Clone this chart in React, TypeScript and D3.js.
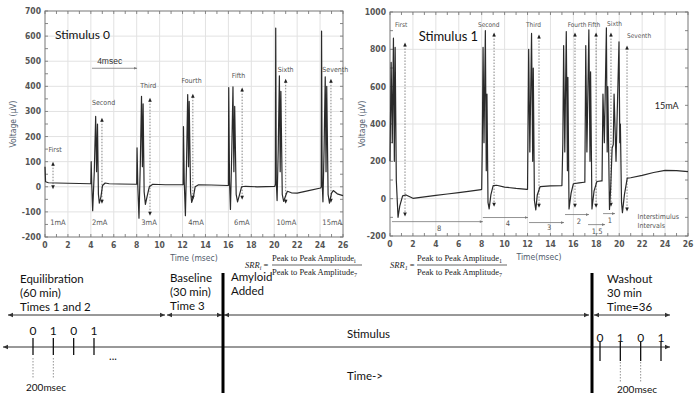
import React from "react";
import * as d3 from "d3";

// ---------- DATA ----------
const timeTicks = [0, 2, 4, 6, 8, 10, 12, 14, 16, 18, 20, 22, 24, 26];
const leftVoltTicks = [-200, -100, 0, 100, 200, 300, 400, 500, 600, 700];
const rightVoltTicks = [-200, 0, 200, 400, 600, 800, 1000];

// Stimulus 0 recording (time ms, voltage µV)
const leftTrace: [number, number][] = [
  [0, 80], [0.05, 20], [0.3, 16], [1, 15], [2, 14], [3, 13], [3.95, 12],
  [4.0, 12], [4.03, 100], [4.08, 10], [4.16, -95], [4.3, 60], [4.42, 280], [4.5, 60], [4.58, 250], [4.66, -30], [4.74, -65], [4.88, -40], [5.02, 5], [5.25, 15], [5.6, 12], [6.5, 11], [7.95, 10],
  [8.0, 10], [8.03, 155], [8.1, 0], [8.2, -125], [8.32, 100], [8.42, 360], [8.5, 80], [8.56, 330], [8.65, -20], [8.76, -70], [8.9, -40], [9.1, 0], [9.4, 10], [10.5, 8], [11.95, 8],
  [12.05, 8], [12.08, 240], [12.15, 20], [12.25, -115], [12.35, 100], [12.45, 367], [12.52, 80], [12.58, 340], [12.7, -20], [12.8, -62], [12.95, -40], [13.1, 0], [13.4, 8], [14.5, 7], [15.95, 5],
  [16.0, 5], [16.03, 395], [16.1, 20], [16.18, -90], [16.3, 150], [16.4, 398], [16.48, 60], [16.55, 320], [16.68, -30], [16.8, -60], [16.95, -35], [17.15, 0], [17.5, 2], [18.5, 0], [20.05, 2],
  [20.1, 10], [20.13, 632], [20.18, 20], [20.25, -55], [20.35, 150], [20.45, 442], [20.52, 60], [20.58, 380], [20.7, -30], [20.82, -58], [21.0, -35], [21.15, -18], [21.5, -24], [22, -25], [23, -15], [24.05, -5],
  [24.1, 0], [24.13, 620], [24.18, 20], [24.25, -60], [24.35, 150], [24.45, 438], [24.52, 60], [24.58, 400], [24.7, -30], [24.82, -65], [25.0, -25], [25.15, -15], [25.5, -28], [26, -35],
];

// Stimulus 1 recording (time ms, voltage µV)
const rightTrace: [number, number][] = [
  [0, 200], [0.1, 730], [0.2, 300], [0.3, 860], [0.38, 200], [0.45, 810], [0.55, 100], [0.7, -100], [0.85, -40], [1.1, 15], [1.4, 20], [2, 2], [3, 10], [4, 18], [5, 25], [6, 32], [7, 40], [7.95, 48],
  [8.0, 50], [8.05, 270], [8.12, 810], [8.2, 300], [8.32, 900], [8.4, 150], [8.46, 560], [8.55, -20], [8.65, -55], [8.8, 20], [9.0, 70], [9.3, 72], [10, 62], [11, 55], [11.95, 50],
  [12.0, 50], [12.1, 800], [12.2, 250], [12.35, 885], [12.45, 200], [12.5, 700], [12.6, -10], [12.72, -60], [12.85, 20], [13.1, 65], [14, 68], [14.95, 70],
  [15.0, 70], [15.08, 300], [15.15, 820], [15.25, 250], [15.38, 895], [15.48, 150], [15.52, 650], [15.62, -55], [15.8, 30], [16.0, 80], [16.5, 85], [16.95, 88],
  [17.0, 88], [17.08, 820], [17.18, 250], [17.35, 905], [17.45, 200], [17.5, 680], [17.62, -55], [17.8, 40], [18.05, 92], [18.45, 95],
  [18.5, 95], [18.58, 560], [18.7, 300], [18.88, 915], [18.95, 250], [19.0, 600], [19.15, -58], [19.25, 50], [19.38, 270], [19.48, 290],
  [19.55, 560], [19.72, 200], [19.98, 840], [20.05, 300], [20.1, 400], [20.2, -20], [20.28, -75], [20.45, 20], [20.7, 110], [21, 112], [22, 125], [23, 140], [24, 152], [25, 150], [26, 145],
];

const pulseNames = ["First", "Second", "Third", "Fourth", "Fifth", "Sixth", "Seventh"];

// Stimulus 0 peak-to-peak markers
const leftArrowT = [0.7, 4.97, 9.16, 12.9, 17.2, 21.0, 24.95];
const leftArrowTop = [100, 275, 355, 370, 395, 430, 430];
const leftArrowBottom = [-10, -68, -115, -52, -52, -68, -64];
const leftLabelT = [0.3, 4.1, 8.3, 11.9, 16.3, 20.3, 24.2];
const leftLabelV = [148, 335, 400, 420, 440, 467, 467];
const currents = ["1mA", "2mA", "3mA", "4mA", "6mA", "10mA", "15mA"];
const currentT = [0.45, 4.1, 8.4, 12.5, 16.5, 20.2, 24.2];

// Stimulus 1 peak-to-peak markers
const rightArrowT = [1.31, 9.08, 13.0, 16.14, 17.98, 19.28, 20.68];
const rightArrowTop = [837, 890, 880, 890, 890, 890, 821];
const rightArrowBottom = [-96, -43, -48, -48, -48, -43, -69];
const rightLabelT = [0.44, 7.68, 11.87, 15.5, 17.25, 18.94, 20.68];
const rightLabelV = [928, 933, 933, 933, 933, 938, 869];

// Interstimulus intervals (ms)
const intervalLabels = ["8", "4", "3", "2", "1.5", "1"];
const intervalStart = [0.17, 8.1, 12.13, 15.27, 17.28, 18.59];
const intervalEnd = [8.1, 12.04, 15.18, 17.36, 18.76, 19.63];
const intervalV = [-123, -101, -128, -85, -139, -80];
const intervalLabelT = [4.1, 10.1, 13.7, 16.3, 17.6, 19.0];
const intervalLabelV = [-160, -133, -155, -123, -176, -117];

// Timeline schematic
const pulseSeq = ["0", "1", "0", "1"];

// ---------- HELPERS ----------
const TICK_FONT = "'Liberation Sans Narrow', 'DejaVu Sans Condensed', 'Liberation Sans', sans-serif";
const SANS = "Lato, 'Open Sans', sans-serif";
const SERIF = "'Liberation Serif', 'DejaVu Serif', serif";
const TITLE_COLOR = "#4f5b6b";

function Chart(props: {
  x: d3.ScaleLinear<number, number>;
  y: d3.ScaleLinear<number, number>;
  yTicks: number[];
  minorY: number;
  data: [number, number][];
  xTitle: string;
  children?: React.ReactNode;
  titleX: number;
}) {
  const { x, y, yTicks, minorY, data, xTitle, titleX } = props;
  const [x0, x1] = x.range();
  const [y0, y1] = y.range();
  const line = d3.line<[number, number]>().x((d) => x(d[0])).y((d) => y(d[1]));
  const minorXs = d3.range(0, 26.01, 1);
  const [dmin, dmax] = y.domain();
  const minorYs = d3.range(dmin, dmax + 0.01, minorY);
  return (
    <g>
      {timeTicks.slice(1, -1).map((t) => (
        <line key={"gx" + t} x1={x(t)} x2={x(t)} y1={y1} y2={y0} stroke="#e2e2e2" strokeWidth={1} />
      ))}
      {yTicks.slice(1, -1).map((v) => (
        <line key={"gy" + v} x1={x0} x2={x1} y1={y(v)} y2={y(v)} stroke="#e2e2e2" strokeWidth={1} />
      ))}
      {minorXs.map((t) => (
        <g key={"mx" + t}>
          <line x1={x(t)} x2={x(t)} y1={y1} y2={y1 + 3} stroke="#888" />
          <line x1={x(t)} x2={x(t)} y1={y0} y2={y0 - 3} stroke="#888" />
        </g>
      ))}
      {minorYs.map((v) => (
        <g key={"my" + v}>
          <line x1={x0} x2={x0 + 3} y1={y(v)} y2={y(v)} stroke="#888" />
          <line x1={x1} x2={x1 - 3} y1={y(v)} y2={y(v)} stroke="#888" />
        </g>
      ))}
      <rect x={x0} y={y1} width={x1 - x0} height={y0 - y1} fill="none" stroke="#777" strokeWidth={1} />
      {timeTicks.map((t) => (
        <text key={"tx" + t} x={x(t)} y={y0 + 8} fontSize={8.5} fontWeight="bold" fill="#555" textAnchor="middle" dominantBaseline="central" fontFamily={TICK_FONT}>
          {t}
        </text>
      ))}
      {yTicks.map((v) => (
        <text key={"ty" + v} x={x0 - 4} y={y(v)} fontSize={8.5} fontWeight="bold" fill="#555" textAnchor="end" dominantBaseline="central" fontFamily={TICK_FONT}>
          {v}
        </text>
      ))}
      <text x={(x0 + x1) / 2} y={y0 + 21} fontSize={8.5} fill={TITLE_COLOR} textAnchor="middle" dominantBaseline="central" fontFamily={TICK_FONT}>
        {xTitle}
      </text>
      <text transform={`translate(${titleX},${(y0 + y1) / 2}) rotate(-90)`} fontSize={8.5} fill={TITLE_COLOR} textAnchor="middle" dominantBaseline="central" fontFamily={TICK_FONT}>
        Voltage (μV)
      </text>
      {props.children}
      <path d={line(data) || ""} fill="none" stroke="#2a2a2a" strokeWidth={1.2} strokeLinejoin="round" />
    </g>
  );
}

function DottedArrow(props: { x: number; y1: number; y2: number }) {
  const { x, y1, y2 } = props;
  return (
    <g>
      <line x1={x} x2={x} y1={y1 + 3} y2={y2 - 3} stroke="#666" strokeWidth={0.8} strokeDasharray="1.5,1.5" />
      <path d={`M${x},${y1} L${x - 1.8},${y1 + 4} L${x + 1.8},${y1 + 4} Z`} fill="#222" />
      <path d={`M${x},${y2} L${x - 1.8},${y2 - 4} L${x + 1.8},${y2 - 4} Z`} fill="#222" />
    </g>
  );
}

function HArrow(props: { x1: number; x2: number; y: number; left?: boolean; right?: boolean; color?: string; size?: number; width?: number }) {
  const { x1, x2, y, left, right } = props;
  const c = props.color || "#333";
  const s = props.size || 5;
  return (
    <g>
      <line x1={x1} x2={x2} y1={y} y2={y} stroke={c} strokeWidth={props.width || 1} />
      {right && <path d={`M${x2},${y} L${x2 - s},${y - s * 0.45} L${x2 - s},${y + s * 0.45} Z`} fill={c} />}
      {left && <path d={`M${x1},${y} L${x1 + s},${y - s * 0.45} L${x1 + s},${y + s * 0.45} Z`} fill={c} />}
    </g>
  );
}

function Formula(props: { x: number; y: number; sub: string }) {
  const { x, y, sub } = props;
  const fx = x + 27;
  return (
    <g fontFamily={SERIF} fill="#222">
      <text x={x} y={y + 3} fontSize={8.5} fontStyle="italic">
        SRR<tspan fontSize={6} dy={2}>{sub}</tspan>
        <tspan dy={-2} fontStyle="normal"> =</tspan>
      </text>
      <text x={fx} y={y - 4} fontSize={8.5}>
        Peak to Peak Amplitude<tspan fontSize={6} dy={2}>{sub}</tspan>
      </text>
      <line x1={fx} x2={fx + 90} y1={y} y2={y} stroke="#222" strokeWidth={0.7} />
      <text x={fx} y={y + 10} fontSize={8.5}>
        Peak to Peak Amplitude<tspan fontSize={6} dy={2}>7</tspan>
      </text>
    </g>
  );
}

export default function App() {
  const W = 696, H = 400;
  const xL = d3.scaleLinear().domain([0, 26]).range([45, 343]);
  const yL = d3.scaleLinear().domain([-200, 700]).range([237, 11]);
  const xR = d3.scaleLinear().domain([0, 26]).range([390, 688]);
  const yR = d3.scaleLinear().domain([-200, 1000]).range([236, 12]);

  const pulseL = d3.scaleLinear().domain([0, 3]).range([33, 94]);
  const pulseR = d3.scaleLinear().domain([0, 3]).range([600, 661]);

  const annFont = TICK_FONT;

  return (
    <svg width={W} height={H} style={{ position: "absolute", left: 0, top: 0, background: "#fff" }} xmlns="http://www.w3.org/2000/svg">
      <rect x={0} y={0} width={W} height={H} fill="#fff" />

      <Chart x={xL} y={yL} yTicks={leftVoltTicks} minorY={50} data={leftTrace} xTitle="Time (msec)" titleX={13}>
        <text x={xL(0.87)} y={yL(608)} fontSize={12} fontFamily={SANS} fill="#111" dominantBaseline="central">Stimulus 0</text>
        {pulseNames.map((n, i) => (
          <g key={"la" + i}>
            <DottedArrow x={xL(leftArrowT[i])} y1={yL(leftArrowTop[i])} y2={yL(leftArrowBottom[i])} />
            <text x={xL(leftLabelT[i])} y={yL(leftLabelV[i])} fontSize={7} fill="#555" fontFamily={annFont} dominantBaseline="central">{n}</text>
            <text x={xL(currentT[i])} y={yL(-144)} fontSize={7.5} fill="#555" fontFamily={annFont} dominantBaseline="central">{currents[i]}</text>
          </g>
        ))}
        <HArrow x1={xL(4.1)} x2={xL(8.03)} y={yL(472)} right color="#777" size={3} width={0.8} />
        <text x={xL(4.55)} y={yL(500)} fontSize={8.5} fill="#333" fontFamily={"'Liberation Sans', Arial, sans-serif"} dominantBaseline="central">4msec</text>
      </Chart>

      <Chart x={xR} y={yR} yTicks={rightVoltTicks} minorY={100} data={rightTrace} xTitle="Time(msec)" titleX={362}>
        <text x={xR(2.5)} y={yR(870)} fontSize={13} fontFamily={SANS} fill="#111" dominantBaseline="central">Stimulus 1</text>
        <text x={xR(23.1)} y={yR(500)} fontSize={9} fontFamily={SANS} fill="#222" dominantBaseline="central">15mA</text>
        {pulseNames.map((n, i) => (
          <g key={"ra" + i}>
            <DottedArrow x={xR(rightArrowT[i])} y1={yR(rightArrowTop[i])} y2={yR(rightArrowBottom[i])} />
            <text x={xR(rightLabelT[i])} y={yR(rightLabelV[i])} fontSize={6.5} fill="#555" fontFamily={annFont} dominantBaseline="central">{n}</text>
          </g>
        ))}
        {intervalLabels.map((l, i) => (
          <g key={"iv" + i}>
            <HArrow x1={xR(intervalStart[i])} x2={xR(intervalEnd[i])} y={yR(intervalV[i])} right color="#777" size={3} width={0.8} />
            <text x={xR(intervalLabelT[i])} y={yR(intervalLabelV[i])} fontSize={7.5} fill="#555" fontFamily={annFont} dominantBaseline="central">{l}</text>
          </g>
        ))}
        <text x={xR(21.6)} y={yR(-96)} fontSize={7} fill="#555" fontFamily={annFont} dominantBaseline="central">Interstimulus</text>
        <text x={xR(21.6)} y={yR(-149)} fontSize={7} fill="#555" fontFamily={annFont} dominantBaseline="central">Intervals</text>
      </Chart>

      <Formula x={245} y={265} sub="i" />
      <Formula x={390} y={265} sub="1" />

      <g fontFamily={SANS} fill="#111" fontSize={11.5}>
        <text x={20} y={278} dominantBaseline="central">Equilibration</text>
        <text x={20} y={292} dominantBaseline="central"> (60 min)</text>
        <text x={20} y={306} dominantBaseline="central">Times 1 and 2</text>
        <text x={170} y={277} dominantBaseline="central">Baseline</text>
        <text x={170} y={291} dominantBaseline="central">(30 min)</text>
        <text x={170} y={305} dominantBaseline="central">Time 3</text>
        <text x={231} y={276} dominantBaseline="central">Amyloid</text>
        <text x={231} y={290} dominantBaseline="central">Added</text>
        <text x={607} y={278} dominantBaseline="central">Washout</text>
        <text x={607} y={292} dominantBaseline="central">30 min</text>
        <text x={607} y={306} dominantBaseline="central">Time=36</text>
        <text x={347} y={333} dominantBaseline="central">Stimulus</text>
        <text x={347} y={375} dominantBaseline="central">Time-&gt;</text>
      </g>

      <HArrow x1={8} x2={165} y={315} left right color="#333" size={5} />
      <HArrow x1={167} x2={222} y={315} left right color="#333" size={5} />
      <HArrow x1={224} x2={589} y={315} left right color="#333" size={5} />
      <HArrow x1={594} x2={670} y={315} left right color="#333" size={5} />
      <HArrow x1={3} x2={670} y={347} left right color="#333" size={5} />

      {pulseSeq.map((p, i) => (
        <g key={"pl" + i}>
          <line x1={pulseL(i)} x2={pulseL(i)} y1={338} y2={355} stroke="#111" strokeWidth={1.3} />
          <text x={pulseL(i)} y={330} fontSize={12} fontFamily={SANS} textAnchor="middle" dominantBaseline="central" fill="#111">{p}</text>
          <line x1={pulseR(i)} x2={pulseR(i)} y1={342} y2={361} stroke="#111" strokeWidth={1.3} />
          <text x={pulseR(i)} y={337} fontSize={12} fontFamily={SANS} textAnchor="middle" dominantBaseline="central" fill="#111">{p}</text>
        </g>
      ))}
      <text x={113} y={355} fontSize={11} fontFamily={SANS} textAnchor="middle" dominantBaseline="central" fill="#111">...</text>

      {[0, 1].map((i) => (
        <line key={"dl" + i} x1={pulseL(i)} x2={pulseL(i)} y1={358} y2={378} stroke="#777" strokeWidth={0.8} strokeDasharray="1.5,1.5" />
      ))}
      {[1, 2].map((i) => (
        <line key={"dr" + i} x1={pulseR(i)} x2={pulseR(i)} y1={362} y2={382} stroke="#777" strokeWidth={0.8} strokeDasharray="1.5,1.5" />
      ))}
      <text x={46} y={387} fontSize={10} fontFamily={SANS} textAnchor="middle" dominantBaseline="central" fill="#111">200msec</text>
      <text x={637} y={389} fontSize={10} fontFamily={SANS} textAnchor="middle" dominantBaseline="central" fill="#111">200msec</text>

      <line x1={223} x2={223} y1={273} y2={393} stroke="#000" strokeWidth={3} />
      <line x1={592} x2={592} y1={273} y2={393} stroke="#000" strokeWidth={3} />
    </svg>
  );
}
